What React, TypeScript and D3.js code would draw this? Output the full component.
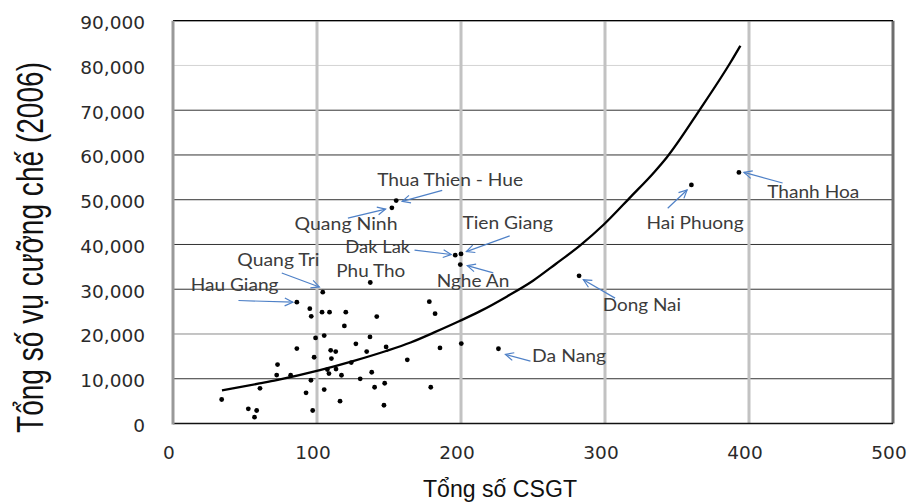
import React from "react";
import * as d3 from "d3";

// ---------- data ----------
const xTicks = [0, 100, 200, 300, 400, 500];
const yTicks = [0, 10000, 20000, 30000, 40000, 50000, 60000, 70000, 80000, 90000];

const labeledNames = [
  "Thanh Hoa", "Hai Phuong", "Dong Nai", "Da Nang", "Thua Thien - Hue", "Quang Ninh",
  "Tien Giang", "Dak Lak", "Nghe An", "Phu Tho", "Quang Tri", "Hau Giang",
];
const labeledX = [393, 360, 282, 226, 155, 152, 200, 196, 199.5, 137, 104, 86];
const labeledY = [56100, 53300, 33000, 16700, 49800, 48200, 37900, 37600, 35500, 31500, 29350, 27100];

const otherX = [
  178, 95, 96, 103.5, 108.7, 120, 119, 99, 105, 127, 86, 109.5, 113, 98, 110, 72.6, 72, 81.7,
  95.8, 108.3, 113.2, 117, 60.4, 92.4, 105, 130, 33.8, 116, 52.3, 58.1, 56.6, 97, 182, 141.5,
  136.8, 148, 134.5, 185.4, 200.2, 162.7, 123.8, 138, 140, 147, 179, 146.5, 107.2,
];
const otherY = [
  27230, 25660, 23950, 24880, 24880, 24880, 21800, 19130, 19640, 17810, 16740, 16340, 16070,
  14800, 14510, 13170, 10820, 10780, 9660, 11160, 12160, 10780, 7860, 6850, 7590, 9980, 5360,
  4980, 3280, 2900, 1410, 2900, 24550, 23880, 19350, 17120, 16070, 16890, 17850, 14220, 13610,
  11450, 8100, 8990, 8100, 4080, 12050,
];

// trend line
const trendX = [34, 60, 72, 102, 125, 148, 165, 181, 199, 213, 232, 250, 266, 283, 299, 318, 334, 343, 366, 387, 394];
const trendY = [7380, 8950, 9700, 11920, 13940, 16200, 18100, 20300, 22900, 25050, 28400, 31900, 35700, 39850, 44400, 50700, 56100, 59500, 70200, 80600, 84400];

// annotation layout (pixel offsets relative to the labelled point)
type Ann = { name: string; lx: number; ly: number; w: number; tail?: [number, number]; head?: [number, number] };
const annotations: Ann[] = [
  { name: "Thua Thien - Hue", lx: -19, ly: -15, w: 146, tail: [46, -10.3], head: [6, 0.7] },
  { name: "Quang Ninh", lx: -97.3, ly: 22.7, w: 103, tail: [-44, 10.3], head: [-6.3, 1.3] },
  { name: "Tien Giang", lx: 1.4, ly: -25, w: 90.6, tail: [48.7, -18], head: [5.4, -2.3] },
  { name: "Dak Lak", lx: -110, ly: -2.4, w: 65, tail: [-40.7, -5], head: [-4, -0.7] },
  { name: "Nghe An", lx: -23.6, ly: 22.3, w: 72.6, tail: [33, 8.3], head: [7, 1] },
  { name: "Quang Tri", lx: -85.4, ly: -25.8, w: 82, tail: [-41, -19.2], head: [-3.4, -5.2] },
  { name: "Hau Giang", lx: -106, ly: -11, w: 87.6, tail: [-58.4, -1.7], head: [-4, 0] },
  { name: "Dong Nai", lx: 23.7, ly: 34.7, w: 78.3, tail: [36, 22.3], head: [4.3, 4] },
  { name: "Da Nang", lx: 33.7, ly: 13, w: 74, tail: [32, 12.4], head: [7, 5.7] },
  { name: "Hai Phuong", lx: -45, ly: 44, w: 97.3, tail: [-23.7, 23.3], head: [-4.3, 5] },
  { name: "Thanh Hoa", lx: 28.3, ly: 26, w: 92, tail: [43.7, 10.6], head: [5, 0] },
  { name: "Phu Tho", lx: -34, ly: -5.4, w: 69 },
];

// ---------- layout ----------
const W = 911;
const H = 502;
const left = 173;
const right = 893;
const top = 20.7;
const bottom = 423.5;

export default function App() {
  const x = d3.scaleLinear().domain([0, 500]).range([left, right]);
  const y = d3.scaleLinear().domain([0, 90000]).range([bottom, top]);

  const trendPts: [number, number][] = trendX.map((v, i) => [x(v), y(trendY[i])]);
  const line = d3.line().curve(d3.curveMonotoneX)(trendPts) || "";

  const hColor = (t: number) => (t === 80000 ? "#d4d4d4" : t === 20000 ? "#8a8a8a" : "#333");

  const arrow = (tx: number, ty: number, hx: number, hy: number, key: string) => {
    const a = Math.atan2(hy - ty, hx - tx);
    const L = 9;
    const s = 0.45;
    const p1 = [hx - L * Math.cos(a - s), hy - L * Math.sin(a - s)];
    const p2 = [hx - L * Math.cos(a + s), hy - L * Math.sin(a + s)];
    return (
      <g key={key} stroke="#4f81c7" strokeWidth={1.2} fill="none">
        <line x1={tx} y1={ty} x2={hx} y2={hy} />
        <polyline points={`${p1[0]},${p1[1]} ${hx},${hy} ${p2[0]},${p2[1]}`} />
      </g>
    );
  };

  return (
    <svg width={W} height={H} style={{ position: "absolute", left: 0, top: 0, background: "#fff" }}>
      <rect x={0} y={0} width={W} height={H} fill="#fff" />
      {/* horizontal gridlines */}
      {yTicks.map((t) => (
        <line key={"h" + t} x1={left} x2={right} y1={y(t)} y2={y(t)} stroke={hColor(t)} strokeWidth={1} />
      ))}
      {/* vertical gridlines */}
      {xTicks.filter((t) => t > 0 && t < 500).map((t) => (
        <line key={"v" + t} x1={x(t)} x2={x(t)} y1={top} y2={bottom} stroke="#c2c2c2" strokeWidth={3} />
      ))}
      {/* frame */}
      <line x1={x(500)} x2={x(500)} y1={top} y2={bottom} stroke="#6e6e6e" strokeWidth={3} />
      <line x1={left} x2={right} y1={top} y2={top} stroke="#000" strokeWidth={1.2} />
      <line x1={left} x2={right} y1={bottom} y2={bottom} stroke="#111" strokeWidth={1.5} />
      <line x1={left} x2={left} y1={top} y2={bottom + 1} stroke="#999" strokeWidth={3} />

      {/* y tick labels */}
      {yTicks.map((t) => (
        <text key={"yl" + t} x={145} y={y(t) + 8.3} textAnchor="end" fontFamily="DejaVu Sans" fontSize={18.5} fill="#2a2a2a">
          {d3.format(",")(t)}
        </text>
      ))}
      {/* x tick labels */}
      {xTicks.map((t) => (
        <text key={"xl" + t} x={x(t) - 4} y={459.3} textAnchor="middle" fontFamily="DejaVu Sans" fontSize={18.5} fill="#2a2a2a">
          {t}
        </text>
      ))}

      {/* axis titles */}
      <text x={500} y={496.7} textAnchor="middle" fontFamily="Liberation Sans, Arial" fontSize={23} fill="#111" textLength={154} lengthAdjust="spacingAndGlyphs">
        Tổng số CSGT
      </text>
      <text
        transform="translate(43,247.5) rotate(-90) scale(1,1.3)"
        textAnchor="middle"
        fontFamily="Liberation Sans, Arial"
        fontSize={28}
        fill="#111"
        textLength={371}
        lengthAdjust="spacingAndGlyphs"
      >
        Tổng số vụ cưỡng chế (2006)
      </text>

      {/* trend line */}
      <path d={line} fill="none" stroke="#000" strokeWidth={2.3} />

      {/* points */}
      {otherX.map((v, i) => (
        <circle key={"o" + i} cx={x(v)} cy={y(otherY[i])} r={2.4} fill="#000" />
      ))}
      {labeledX.map((v, i) => (
        <circle key={"l" + i} cx={x(v)} cy={y(labeledY[i])} r={2.4} fill="#000" />
      ))}

      {/* annotations */}
      {annotations.map((a) => {
        const i = labeledNames.indexOf(a.name);
        const px = x(labeledX[i]);
        const py = y(labeledY[i]);
        return (
          <g key={"a" + a.name}>
            <text
              x={px + a.lx}
              y={py + a.ly}
              fontFamily="Lato, Open Sans, sans-serif"
              fontSize={16.5}
              fill="#3c3c3c"
              textLength={a.w}
              lengthAdjust="spacingAndGlyphs"
            >
              {a.name}
            </text>
            {a.tail && a.head ? arrow(px + a.tail[0], py + a.tail[1], px + a.head[0], py + a.head[1], "ar" + a.name) : null}
          </g>
        );
      })}
    </svg>
  );
}
